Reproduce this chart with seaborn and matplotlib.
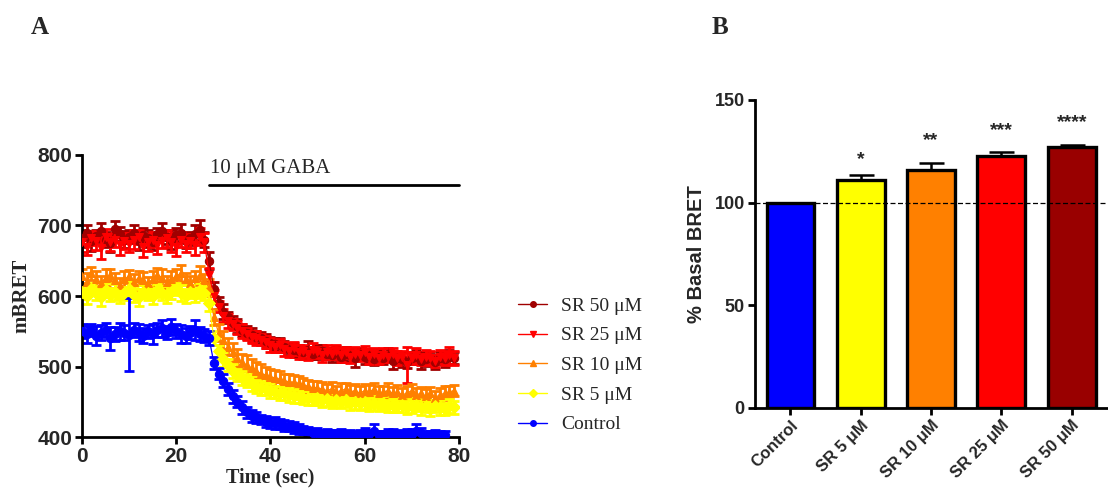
import numpy as np
import pandas as pd
import matplotlib
matplotlib.use("Agg")
import matplotlib.pyplot as plt
from matplotlib.lines import Line2D
import seaborn as sns

# ---------------- data ----------------
time_sec = list(range(0, 80))

sr50 = [682, 690, 678, 685, 692, 680, 675, 695, 688, 680, 684, 690, 678, 686, 682, 676, 688, 692, 684, 680,
        686, 690, 678, 682, 688, 694, 680,
        650, 610, 590, 578, 570, 562, 558, 552, 548, 545, 542, 540, 536, 534, 532, 530, 528, 525, 524, 522,
        520, 524, 518, 520, 522, 518, 516, 520, 514, 518, 516, 512, 518, 514, 516, 510, 514, 512, 518, 508,
        512, 510, 506, 512, 514, 508, 510, 512, 506, 512, 510, 514, 512]
sr50_err = [12, 10, 14, 9, 12, 11, 13, 12, 10, 12, 9, 11, 13, 10, 12, 11, 9, 12, 10, 13,
            11, 12, 10, 9, 12, 14, 11,
            12, 10, 9, 10, 8, 9, 10, 8, 9, 10, 8, 9, 10, 8, 9, 10, 8, 9, 10, 8,
            9, 12, 8, 10, 9, 8, 10, 9, 8, 10, 9, 12, 8, 10, 9, 8, 10, 9, 8, 12,
            9, 10, 8, 9, 10, 12, 9, 8, 10, 9, 11, 10, 9]

sr25 = [676, 670, 682, 678, 668, 684, 676, 680, 672, 678, 674, 680, 684, 670, 676, 680, 672, 678, 682, 676,
        670, 680, 674, 678, 672, 684, 676,
        630, 600, 585, 572, 565, 560, 555, 550, 546, 542, 540, 538, 535, 530, 528, 530, 525, 522, 526, 520,
        522, 518, 524, 520, 516, 520, 518, 522, 516, 520, 514, 518, 516, 520, 514, 518, 512, 516, 514, 518,
        512, 514, 502, 512, 516, 510, 514, 512, 508, 514, 512, 516, 512]
sr25_err = [14, 12, 10, 13, 15, 11, 12, 10, 14, 11, 12, 13, 10, 14, 12, 11, 13, 10, 12, 14,
            13, 11, 12, 10, 14, 12, 13,
            10, 9, 8, 9, 10, 8, 9, 10, 8, 9, 10, 8, 9, 10, 8, 9, 10, 8, 9, 10,
            8, 9, 10, 8, 9, 10, 8, 9, 10, 8, 9, 10, 8, 9, 10, 8, 9, 10, 8, 9,
            10, 8, 26, 9, 10, 8, 9, 10, 8, 9, 10, 12, 10]

sr10 = [628, 620, 632, 624, 618, 626, 630, 622, 616, 624, 628, 620, 626, 622, 618, 624, 630, 626, 620, 624,
        628, 632, 624, 618, 626, 630, 622,
        612, 570, 548, 538, 528, 520, 512, 506, 502, 498, 494, 490, 488, 485, 484, 482, 480, 478, 478, 476,
        474, 472, 470, 470, 468, 466, 468, 464, 466, 468, 464, 466, 462, 466, 464, 468, 462, 464, 466, 462,
        464, 460, 462, 466, 460, 462, 458, 462, 456, 460, 462, 464, 466]
sr10_err = [10, 12, 9, 11, 10, 12, 9, 11, 10, 12, 9, 11, 10, 12, 9, 11, 10, 12, 9, 11,
            10, 12, 9, 11, 10, 12, 9,
            12, 11, 12, 13, 12, 14, 13, 12, 14, 13, 12, 13, 12, 12, 11, 12, 10, 11, 10, 11,
            10, 9, 10, 9, 10, 9, 10, 9, 10, 9, 10, 9, 10, 9, 10, 9, 10, 9, 10, 9,
            10, 9, 10, 9, 10, 9, 10, 9, 10, 9, 10, 9, 8]

sr5 = [606, 600, 610, 604, 598, 608, 602, 606, 600, 604, 610, 602, 598, 606, 604, 600, 608, 604, 602, 606,
       610, 604, 600, 606, 602, 608, 604,
       590, 540, 522, 510, 502, 494, 488, 484, 480, 476, 472, 470, 468, 466, 464, 462, 462, 460, 458, 458,
       456, 456, 454, 455, 452, 454, 450, 452, 450, 452, 448, 450, 448, 450, 446, 448, 446, 448, 444, 446,
       444, 446, 442, 444, 446, 442, 444, 440, 444, 442, 440, 444, 442]
sr5_err = [10, 11, 9, 10, 12, 10, 9, 11, 10, 9, 11, 10, 12, 9, 10, 11, 9, 10, 12, 10,
           9, 11, 10, 9, 10, 11, 10,
           11, 10, 9, 10, 9, 10, 9, 10, 9, 10, 9, 10, 9, 10, 9, 10, 9, 10, 9, 10,
           9, 10, 9, 10, 9, 10, 9, 10, 9, 10, 9, 10, 9, 10, 9, 10, 9, 10, 9, 10,
           9, 10, 9, 10, 9, 10, 9, 10, 9, 10, 9, 10, 9]

control = [550, 546, 552, 544, 548, 552, 540, 546, 550, 548, 545, 552, 548, 544, 550, 546, 552, 554, 548, 556,
           550, 546, 544, 548, 552, 546, 544,
           540, 505, 490, 480, 468, 458, 450, 442, 435, 430, 428, 425, 422, 420, 420, 418, 416, 416, 414, 412,
           410, 408, 406, 406, 404, 405, 404, 403, 405, 402, 404, 402, 404, 406, 404, 408, 403, 402, 405, 404,
           402, 403, 405, 404, 408, 406, 403, 402, 404, 402, 403]
control_err = [10, 12, 9, 14, 11, 10, 16, 10, 12, 11, 52, 10, 12, 11, 9, 14, 10, 12, 9, 11,
               10, 13, 10, 9, 14, 10, 9,
               10, 9, 8, 9, 8, 9, 8, 9, 8, 9, 8, 7, 8, 7, 8, 7, 8, 7, 8, 7,
               6, 7, 6, 7, 6, 7, 6, 7, 6, 7, 6, 7, 6, 7, 6, 10, 6, 7, 6, 7,
               6, 7, 6, 7, 10, 7, 6, 7, 6, 7, 6]

series_names = ["SR 50 \u03bcM", "SR 25 \u03bcM", "SR 10 \u03bcM", "SR 5 \u03bcM", "Control"]
series_values = [sr50, sr25, sr10, sr5, control]
series_errors = [sr50_err, sr25_err, sr10_err, sr5_err, control_err]

bar_categories = ["Control", "SR 5 \u03bcM", "SR 10 \u03bcM", "SR 25 \u03bcM", "SR 50 \u03bcM"]
bar_values = [100, 111, 116, 122.5, 127]
bar_errors = [0, 2.5, 3.5, 2.0, 1.0]
bar_stars = ["", "*", "**", "***", "****"]
star_heights = [0, 121, 130, 135, 139]

# ---------------- style ----------------
sns.set_theme(style="white")
plt.rcParams["font.family"] = ["Liberation Sans", "DejaVu Sans"]

series_colors = ["#A00000", "#FF0000", "#FF8000", "#FFFF00", "#0000FF"]
series_markers = ["o", "v", "^", "D", "o"]
bar_colors = ["#0000FF", "#FFFF00", "#FF8000", "#FF0000", "#990000"]

fig = plt.figure(figsize=(11.08, 4.95), dpi=100)
axA = fig.add_axes([0.074, 0.117, 0.340, 0.570])
axB = fig.add_axes([0.681, 0.176, 0.318, 0.622])

serif = ["Liberation Serif", "DejaVu Serif"]

# ---------------- Panel A ----------------
handles = []
for name, vals, errs, col, mk in zip(series_names, series_values, series_errors, series_colors, series_markers):
    t = time_sec[:len(vals)]
    df = pd.DataFrame({"t": t, "v": vals})
    axA.errorbar(t, vals, yerr=errs, fmt="none", ecolor=col, elinewidth=2.0,
                 capsize=3.6, capthick=2.0, zorder=2)
    sns.lineplot(data=df, x="t", y="v", ax=axA, color=col, linewidth=0.9,
                 marker=mk, markersize=6, markeredgecolor=col, zorder=3)
    handles.append(Line2D([0], [0], color=col, lw=1.0, marker=mk, markersize=4,
                          markeredgecolor=col))

axA.set_xlim(0, 80)
axA.set_ylim(400, 800)
axA.set_xticks([0, 20, 40, 60, 80])
axA.set_yticks([400, 500, 600, 700, 800])
for lab in axA.get_xticklabels() + axA.get_yticklabels():
    lab.set_fontweight("bold")
    lab.set_fontsize(15)
axA.set_xlabel("Time (sec)", fontfamily=serif, fontweight="bold", fontsize=14.5, labelpad=1)
axA.set_ylabel("mBRET", fontfamily=serif, fontweight="bold", fontsize=15, labelpad=4)
for s in ["top", "right"]:
    axA.spines[s].set_visible(False)
for s in ["left", "bottom"]:
    axA.spines[s].set_linewidth(2)
    axA.spines[s].set_color("black")
axA.tick_params(axis="both", which="major", direction="out", length=5, width=2,
                color="black", pad=2, bottom=True, left=True)

axA.plot([27, 80], [757, 757], color="black", lw=2, clip_on=False)
axA.text(27.2, 767, "10 \u03bcM GABA", fontfamily=serif, fontsize=15, ha="left", va="bottom")

fig.legend(handles, series_names, loc="center left", bbox_to_anchor=(0.4675, 0.262),
           frameon=False, prop={"family": serif, "size": 14}, handlelength=1.5,
           labelspacing=0.62, handletextpad=0.7, borderpad=0, borderaxespad=0)

# ---------------- Panel B ----------------
bdf = pd.DataFrame({"cat": bar_categories, "val": bar_values})
sns.barplot(data=bdf, x="cat", y="val", hue="cat", palette=bar_colors, legend=False,
            ax=axB, width=0.68, edgecolor="black", linewidth=2.4, errorbar=None,
            saturation=1, zorder=3)
axB.errorbar(range(len(bar_values)), bar_values, yerr=[[0] * len(bar_errors), bar_errors],
             fmt="none", ecolor="black", elinewidth=1.8, capsize=9, capthick=1.8, zorder=2)
for i, (st, h) in enumerate(zip(bar_stars, star_heights)):
    if st:
        axB.text(i, h, st, ha="center", va="center", fontsize=14, fontweight="bold")
axB.axhline(100, color="black", lw=0.9, ls=(0, (4, 2)), zorder=4)
axB.set_xlim(-0.51, 4.5)
axB.set_ylim(0, 150)
axB.set_yticks([0, 50, 100, 150])
axB.set_xlabel("")
axB.set_ylabel("% Basal BRET", fontweight="bold", fontsize=14.5, labelpad=6)
axB.set_xticks(range(len(bar_categories)))
axB.set_xticklabels(bar_categories, rotation=45, ha="right", rotation_mode="anchor",
                    fontweight="bold", fontsize=12)
for lab in axB.get_yticklabels():
    lab.set_fontweight("bold")
    lab.set_fontsize(13)
for s in ["top", "right"]:
    axB.spines[s].set_visible(False)
for s in ["left", "bottom"]:
    axB.spines[s].set_linewidth(2)
    axB.spines[s].set_color("black")
axB.tick_params(axis="both", which="major", direction="out", length=5, width=2,
                color="black", pad=2, bottom=True, left=True)

# panel letters
fig.text(40 / 1108, 1 - 28 / 495, "A", fontfamily=serif, fontweight="bold", fontsize=18,
         ha="center", va="center")
fig.text(720 / 1108, 1 - 28 / 495, "B", fontfamily=serif, fontweight="bold", fontsize=18,
         ha="center", va="center")

fig.savefig("out.png", dpi=100)
